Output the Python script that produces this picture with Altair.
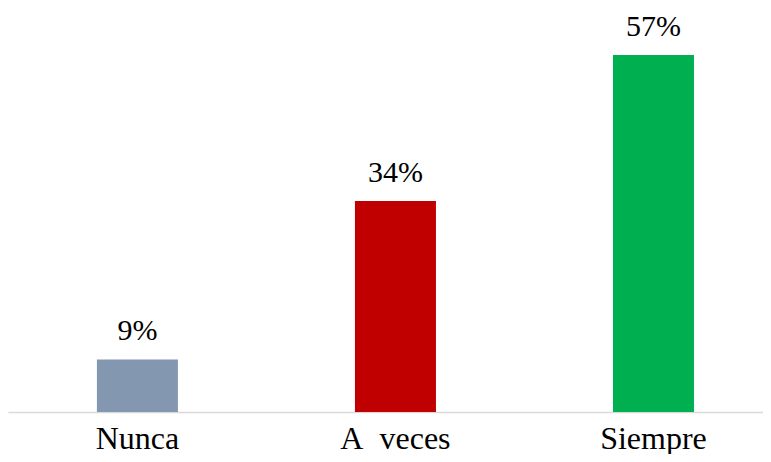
import altair as alt
import pandas as pd

categories = ["Nunca", "A\u00a0 veces", "Siempre"]
values = [8.4, 33.7, 57.0]
labels = ["9%", "34%", "57%"]
colors = ["#8497B0", "#C00000", "#00B050"]

df = pd.DataFrame({"cat": categories, "val": values, "lab": labels})

SERIF = "Liberation Serif"

x = alt.X("cat:N", sort=categories, title=None,
          scale=alt.Scale(paddingInner=0.686, paddingOuter=0.306, align=0.563),
          axis=alt.Axis(labelAngle=0, ticks=False, labelFontSize=32, labelFont=SERIF,
                        labelBaseline="alphabetic", labelColor="#000000", labelPadding=36,
                        domainColor="#d9d9d9", domainWidth=1.5))
y = alt.Y("val:Q", scale=alt.Scale(domain=[0, 64.5], nice=False), axis=None)

bars = alt.Chart(df).mark_bar().encode(
    x=x, y=y,
    color=alt.Color("cat:N", scale=alt.Scale(domain=categories, range=colors), legend=None),
)
text = alt.Chart(df).mark_text(font=SERIF, fontSize=30, baseline="alphabetic", dy=-19, color="#000000").encode(
    x=alt.X("cat:N", sort=categories), y=y, text="lab:N"
)

chart = (bars + text).properties(
    width=755, height=404,
    autosize=alt.AutoSizeParams(type="none"),
    padding={"left": 0, "top": 0, "right": 0, "bottom": 42},
).configure_view(stroke=None)

chart.save("out.html", embed_options={"renderer": "svg", "actions": False})
